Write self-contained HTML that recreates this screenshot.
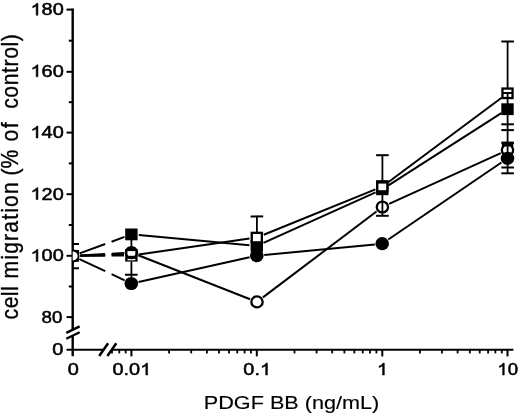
<!DOCTYPE html>
<html><head><meta charset="utf-8"><title>chart</title>
<style>html,body{margin:0;padding:0;background:#fff;}body{width:520px;height:417px;overflow:hidden;font-family:"Liberation Sans",sans-serif;}</style>
</head><body>
<svg width="520" height="417" viewBox="0 0 520 417" style="display:block">
<rect width="520" height="417" fill="#fff"/>
<g stroke="#000" fill="none" stroke-linecap="butt">
<line x1="72.7" y1="8.6" x2="72.7" y2="329.3" stroke-width="2.4"/>
<line x1="72.7" y1="335.6" x2="72.7" y2="356.2" stroke-width="2.4"/>
<line x1="66.3" y1="332.9" x2="79.7" y2="326.4" stroke-width="2.3"/>
<line x1="66.3" y1="338.7" x2="79.7" y2="332.2" stroke-width="2.3"/>
<line x1="66.5" y1="9.6" x2="72.7" y2="9.6" stroke-width="2"/>
<line x1="66.5" y1="71.8" x2="72.7" y2="71.8" stroke-width="2"/>
<line x1="66.5" y1="132.6" x2="72.7" y2="132.6" stroke-width="2"/>
<line x1="66.5" y1="194.2" x2="72.7" y2="194.2" stroke-width="2"/>
<line x1="66.5" y1="255.8" x2="72.7" y2="255.8" stroke-width="2"/>
<line x1="66.5" y1="317.1" x2="72.7" y2="317.1" stroke-width="2"/>
<line x1="68.8" y1="286.5" x2="72.7" y2="286.5" stroke-width="2"/>
<line x1="68.8" y1="225.0" x2="72.7" y2="225.0" stroke-width="2"/>
<line x1="68.8" y1="163.4" x2="72.7" y2="163.4" stroke-width="2"/>
<line x1="68.8" y1="102.2" x2="72.7" y2="102.2" stroke-width="2"/>
<line x1="68.8" y1="40.7" x2="72.7" y2="40.7" stroke-width="2"/>
<line x1="66.5" y1="349.7" x2="103.2" y2="349.7" stroke-width="2.1"/>
<line x1="111.5" y1="349.7" x2="513.4" y2="349.7" stroke-width="2.1"/>
<line x1="99.2" y1="356" x2="108.1" y2="343.2" stroke-width="2.5"/>
<line x1="107.4" y1="356" x2="116.3" y2="343.2" stroke-width="2.5"/>
<line x1="131.4" y1="349.7" x2="131.4" y2="356.4" stroke-width="2"/>
<line x1="256.8" y1="349.7" x2="256.8" y2="356.4" stroke-width="2"/>
<line x1="382.3" y1="349.7" x2="382.3" y2="356.4" stroke-width="2"/>
<line x1="507.5" y1="349.7" x2="507.5" y2="356.4" stroke-width="2"/>
<line x1="112.0" y1="349.7" x2="112.0" y2="353.4" stroke-width="1.8"/>
<line x1="119.3" y1="349.7" x2="119.3" y2="353.4" stroke-width="1.8"/>
<line x1="125.7" y1="349.7" x2="125.7" y2="353.4" stroke-width="1.8"/>
<line x1="169.1" y1="349.7" x2="169.1" y2="353.4" stroke-width="1.8"/>
<line x1="191.2" y1="349.7" x2="191.2" y2="353.4" stroke-width="1.8"/>
<line x1="206.9" y1="349.7" x2="206.9" y2="353.4" stroke-width="1.8"/>
<line x1="219.0" y1="349.7" x2="219.0" y2="353.4" stroke-width="1.8"/>
<line x1="229.0" y1="349.7" x2="229.0" y2="353.4" stroke-width="1.8"/>
<line x1="237.3" y1="349.7" x2="237.3" y2="353.4" stroke-width="1.8"/>
<line x1="244.6" y1="349.7" x2="244.6" y2="353.4" stroke-width="1.8"/>
<line x1="251.0" y1="349.7" x2="251.0" y2="353.4" stroke-width="1.8"/>
<line x1="294.5" y1="349.7" x2="294.5" y2="353.4" stroke-width="1.8"/>
<line x1="316.6" y1="349.7" x2="316.6" y2="353.4" stroke-width="1.8"/>
<line x1="332.2" y1="349.7" x2="332.2" y2="353.4" stroke-width="1.8"/>
<line x1="344.4" y1="349.7" x2="344.4" y2="353.4" stroke-width="1.8"/>
<line x1="354.3" y1="349.7" x2="354.3" y2="353.4" stroke-width="1.8"/>
<line x1="362.7" y1="349.7" x2="362.7" y2="353.4" stroke-width="1.8"/>
<line x1="370.0" y1="349.7" x2="370.0" y2="353.4" stroke-width="1.8"/>
<line x1="376.4" y1="349.7" x2="376.4" y2="353.4" stroke-width="1.8"/>
<line x1="419.9" y1="349.7" x2="419.9" y2="353.4" stroke-width="1.8"/>
<line x1="441.9" y1="349.7" x2="441.9" y2="353.4" stroke-width="1.8"/>
<line x1="457.6" y1="349.7" x2="457.6" y2="353.4" stroke-width="1.8"/>
<line x1="469.8" y1="349.7" x2="469.8" y2="353.4" stroke-width="1.8"/>
<line x1="479.7" y1="349.7" x2="479.7" y2="353.4" stroke-width="1.8"/>
<line x1="488.1" y1="349.7" x2="488.1" y2="353.4" stroke-width="1.8"/>
<line x1="495.4" y1="349.7" x2="495.4" y2="353.4" stroke-width="1.8"/>
<line x1="501.8" y1="349.7" x2="501.8" y2="353.4" stroke-width="1.8"/>
</g>
<defs><clipPath id="c"><rect x="72.7" y="0" width="448" height="349"/></clipPath></defs>
<g clip-path="url(#c)">
<g stroke="#000" stroke-width="2.0" fill="none">
<line x1="79.4" y1="259.1" x2="105.2" y2="271.2"/>
<line x1="111.6" y1="274.2" x2="124.6" y2="280.3"/>
<line x1="138.5" y1="281.9" x2="249.6" y2="257.3"/>
<line x1="264.2" y1="255.0" x2="374.8" y2="244.4"/>
<line x1="388.3" y1="239.5" x2="501.4" y2="162.5"/>
<line x1="79.6" y1="253.4" x2="105.2" y2="244.0"/>
<line x1="111.6" y1="241.7" x2="124.5" y2="236.9"/>
<line x1="138.8" y1="235.1" x2="249.4" y2="245.2"/>
<line x1="263.5" y1="242.9" x2="375.6" y2="192.3"/>
<line x1="388.5" y1="185.3" x2="501.3" y2="113.2"/>
<line x1="80.1" y1="255.8" x2="105.2" y2="255.7"/>
<line x1="111.6" y1="255.6" x2="124.0" y2="255.6"/>
<line x1="138.7" y1="254.5" x2="249.5" y2="238.6"/>
<line x1="263.7" y1="234.8" x2="375.4" y2="189.4"/>
<line x1="388.2" y1="182.2" x2="501.6" y2="97.7"/>
<line x1="80.1" y1="255.5" x2="105.2" y2="254.1"/>
<line x1="111.6" y1="253.7" x2="124.0" y2="253.0"/>
<line x1="138.3" y1="255.3" x2="250.1" y2="299.2"/>
<line x1="262.9" y1="297.4" x2="376.5" y2="211.5"/>
<line x1="389.1" y1="203.9" x2="500.8" y2="153.1"/>
<line x1="80.1" y1="255.7" x2="105.2" y2="254.9"/>
<line x1="111.6" y1="254.7" x2="124.0" y2="254.3"/>
</g>
<ellipse cx="72.7" cy="255.9" rx="6.8" ry="6.6" fill="#000"/>
<ellipse cx="131.3" cy="283.5" rx="6.8" ry="6.6" fill="#000"/>
<ellipse cx="256.8" cy="255.7" rx="6.8" ry="6.6" fill="#000"/>
<ellipse cx="382.2" cy="243.7" rx="6.8" ry="6.6" fill="#000"/>
<ellipse cx="507.5" cy="158.3" rx="6.8" ry="6.6" fill="#000"/>
<rect x="66.5" y="250.0" width="12.4" height="11.8" fill="#000"/>
<rect x="125.2" y="228.5" width="12.4" height="11.8" fill="#000"/>
<rect x="250.6" y="240.0" width="12.4" height="11.8" fill="#000"/>
<rect x="376.1" y="183.4" width="12.4" height="11.8" fill="#000"/>
<rect x="501.3" y="103.3" width="12.4" height="11.8" fill="#000"/>
<rect x="125.2" y="248.9" width="12.4" height="12.7" fill="#000"/><rect x="127.2" y="247.4" width="8.4" height="2" fill="#000"/>
<rect x="127.4" y="251.1" width="8.0" height="4.7" fill="#fff"/>
<rect x="127.5" y="258.8" width="7.8" height="1.5" fill="#fff"/>
<rect x="251.75" y="232.85" width="10.10" height="9.50" fill="#fff" stroke="#000" stroke-width="2.3"/>
<rect x="377.25" y="181.85" width="10.10" height="9.50" fill="#fff" stroke="#000" stroke-width="2.3"/>
<rect x="502.45" y="88.55" width="10.10" height="9.50" fill="#fff" stroke="#000" stroke-width="2.3"/>
<ellipse cx="72.7" cy="255.9" rx="5.0" ry="4.5" fill="#fff"/>
<ellipse cx="131.4" cy="252.6" rx="5.65" ry="5.45" fill="none" stroke="#000" stroke-width="2.3"/>
<ellipse cx="257" cy="301.9" rx="5.65" ry="5.45" fill="none" stroke="#000" stroke-width="2.3"/>
<ellipse cx="382.4" cy="207" rx="5.65" ry="5.45" fill="none" stroke="#000" stroke-width="2.3"/>
<ellipse cx="507.5" cy="150.0" rx="5.65" ry="5.45" fill="none" stroke="#000" stroke-width="2.3"/>
<g stroke="#000" fill="none">
<line x1="66.4" y1="244.1" x2="79.0" y2="244.1" stroke-width="2.0"/>
<line x1="66.4" y1="268.2" x2="79.0" y2="268.2" stroke-width="2.0"/>
<line x1="131.4" y1="240" x2="131.4" y2="247" stroke-width="1.8"/>
<line x1="131.4" y1="261.5" x2="131.4" y2="277" stroke-width="1.8"/>
<line x1="125.0" y1="274.7" x2="137.6" y2="274.7" stroke-width="2.0"/>
<line x1="250.6" y1="216.4" x2="263.2" y2="216.4" stroke-width="2.0"/>
<line x1="256.9" y1="216.4" x2="256.9" y2="232" stroke-width="1.8"/>
<line x1="376.1" y1="155.2" x2="388.7" y2="155.2" stroke-width="2.0"/>
<line x1="376.2" y1="181.9" x2="388.6" y2="181.9" stroke-width="3.4"/>
<line x1="382.4" y1="155.2" x2="382.4" y2="181" stroke-width="1.8"/>
<line x1="382.4" y1="194" x2="382.4" y2="215.8" stroke-width="1.8"/>
<line x1="376.1" y1="215.8" x2="388.7" y2="215.8" stroke-width="2.0"/>
<line x1="501.3" y1="41.5" x2="513.9" y2="41.5" stroke-width="2.0"/>
<line x1="507.6" y1="41.5" x2="507.6" y2="88" stroke-width="1.8"/>
<line x1="502.6" y1="93" x2="512.6" y2="93" stroke-width="2.0"/>
<line x1="507.6" y1="93" x2="507.6" y2="104" stroke-width="1.8"/>
<line x1="507.6" y1="114" x2="507.6" y2="173.3" stroke-width="1.8"/>
<line x1="501.3" y1="124.3" x2="513.9" y2="124.3" stroke-width="2.0"/>
<line x1="501.3" y1="130.1" x2="513.9" y2="130.1" stroke-width="2.0"/>
<line x1="501.3" y1="142.9" x2="513.9" y2="142.9" stroke-width="2.6"/>
<rect x="502.0" y="142.9" width="11.2" height="3.5" fill="#000" stroke="none"/>
<line x1="501.3" y1="167.5" x2="513.9" y2="167.5" stroke-width="2.0"/>
<line x1="501.3" y1="173.3" x2="513.9" y2="173.3" stroke-width="2.0"/>
</g>
</g>
<g font-family="Liberation Sans, sans-serif" fill="#000" stroke="#000" stroke-width="0.5" stroke-linejoin="round" style="filter:grayscale(1)">
<path transform="translate(30.50,15.2) scale(0.00973,-0.00811)" d="M763 0H583V1147Q518 1085 412.5 1023T223 930V1104Q374 1175 487 1276T647 1472H763Z" stroke-width="62"/>
<text transform="translate(41.58,15.2) scale(1.2,1)" font-size="16.6">8</text>
<text transform="translate(52.66,15.2) scale(1.2,1)" font-size="16.6">0</text>
<path transform="translate(30.50,76.8) scale(0.00973,-0.00811)" d="M763 0H583V1147Q518 1085 412.5 1023T223 930V1104Q374 1175 487 1276T647 1472H763Z" stroke-width="62"/>
<text transform="translate(41.58,76.8) scale(1.2,1)" font-size="16.6">6</text>
<text transform="translate(52.66,76.8) scale(1.2,1)" font-size="16.6">0</text>
<path transform="translate(30.50,138.0) scale(0.00973,-0.00811)" d="M763 0H583V1147Q518 1085 412.5 1023T223 930V1104Q374 1175 487 1276T647 1472H763Z" stroke-width="62"/>
<text transform="translate(41.58,138.0) scale(1.2,1)" font-size="16.6">4</text>
<text transform="translate(52.66,138.0) scale(1.2,1)" font-size="16.6">0</text>
<path transform="translate(30.50,199.6) scale(0.00973,-0.00811)" d="M763 0H583V1147Q518 1085 412.5 1023T223 930V1104Q374 1175 487 1276T647 1472H763Z" stroke-width="62"/>
<text transform="translate(41.58,199.6) scale(1.2,1)" font-size="16.6">2</text>
<text transform="translate(52.66,199.6) scale(1.2,1)" font-size="16.6">0</text>
<path transform="translate(30.50,261.4) scale(0.00973,-0.00811)" d="M763 0H583V1147Q518 1085 412.5 1023T223 930V1104Q374 1175 487 1276T647 1472H763Z" stroke-width="62"/>
<text transform="translate(41.58,261.4) scale(1.2,1)" font-size="16.6">0</text>
<text transform="translate(52.66,261.4) scale(1.2,1)" font-size="16.6">0</text>
<text transform="translate(41.52,322.8) scale(1.13,1)" font-size="16.6">8</text>
<text transform="translate(51.96,322.8) scale(1.13,1)" font-size="16.6">0</text>
<text transform="translate(52.36,354.9) scale(1.2,1)" font-size="16.6">0</text>
<text transform="translate(67.67,375.0) scale(1.2,1)" font-size="16.6">0</text>
<text transform="translate(112.47,375.0) scale(1.2,1)" font-size="16.6">0</text>
<text transform="translate(123.55,375.0) scale(1.2,1)" font-size="16.6">.</text>
<text transform="translate(129.09,375.0) scale(1.2,1)" font-size="16.6">0</text>
<path transform="translate(140.16,375.0) scale(0.00973,-0.00811)" d="M763 0H583V1147Q518 1085 412.5 1023T223 930V1104Q374 1175 487 1276T647 1472H763Z" stroke-width="62"/>
<text transform="translate(243.37,375.0) scale(1.2,1)" font-size="16.6">0</text>
<text transform="translate(254.45,375.0) scale(1.2,1)" font-size="16.6">.</text>
<path transform="translate(259.99,375.0) scale(0.00973,-0.00811)" d="M763 0H583V1147Q518 1085 412.5 1023T223 930V1104Q374 1175 487 1276T647 1472H763Z" stroke-width="62"/>
<path transform="translate(376.90,375.0) scale(0.00973,-0.00811)" d="M763 0H583V1147Q518 1085 412.5 1023T223 930V1104Q374 1175 487 1276T647 1472H763Z" stroke-width="62"/>
<path transform="translate(497.34,375.0) scale(0.00908,-0.00811)" d="M763 0H583V1147Q518 1085 412.5 1023T223 930V1104Q374 1175 487 1276T647 1472H763Z" stroke-width="62"/>
<text transform="translate(507.68,375.0) scale(1.12,1)" font-size="16.6">0</text>
<text x="203.8" y="409.2" font-size="18.8" stroke-width="0.15" textLength="175.5" lengthAdjust="spacingAndGlyphs">PDGF BB (ng/mL)</text>
<text transform="translate(18.4,319.40) rotate(-90) scale(0.92,1)" font-size="23" stroke-width="0.35" textLength="35.99" lengthAdjust="spacing">cell</text>
<text transform="translate(18.4,278.40) rotate(-90) scale(0.92,1)" font-size="23" stroke-width="0.35" textLength="104.39" lengthAdjust="spacing">migration</text>
<text transform="translate(18.4,175.60) rotate(-90) scale(0.92,1)" font-size="23" stroke-width="0.35" textLength="28.13" lengthAdjust="spacing">(%</text>
<text transform="translate(18.4,141.40) rotate(-90) scale(0.92,1)" font-size="23" stroke-width="0.35" textLength="20.66" lengthAdjust="spacing">of</text>
<text transform="translate(18.4,108.80) rotate(-90) scale(0.92,1)" font-size="23" stroke-width="0.35" textLength="81.10" lengthAdjust="spacing">control)</text>
</g>
</svg>
</body></html>
